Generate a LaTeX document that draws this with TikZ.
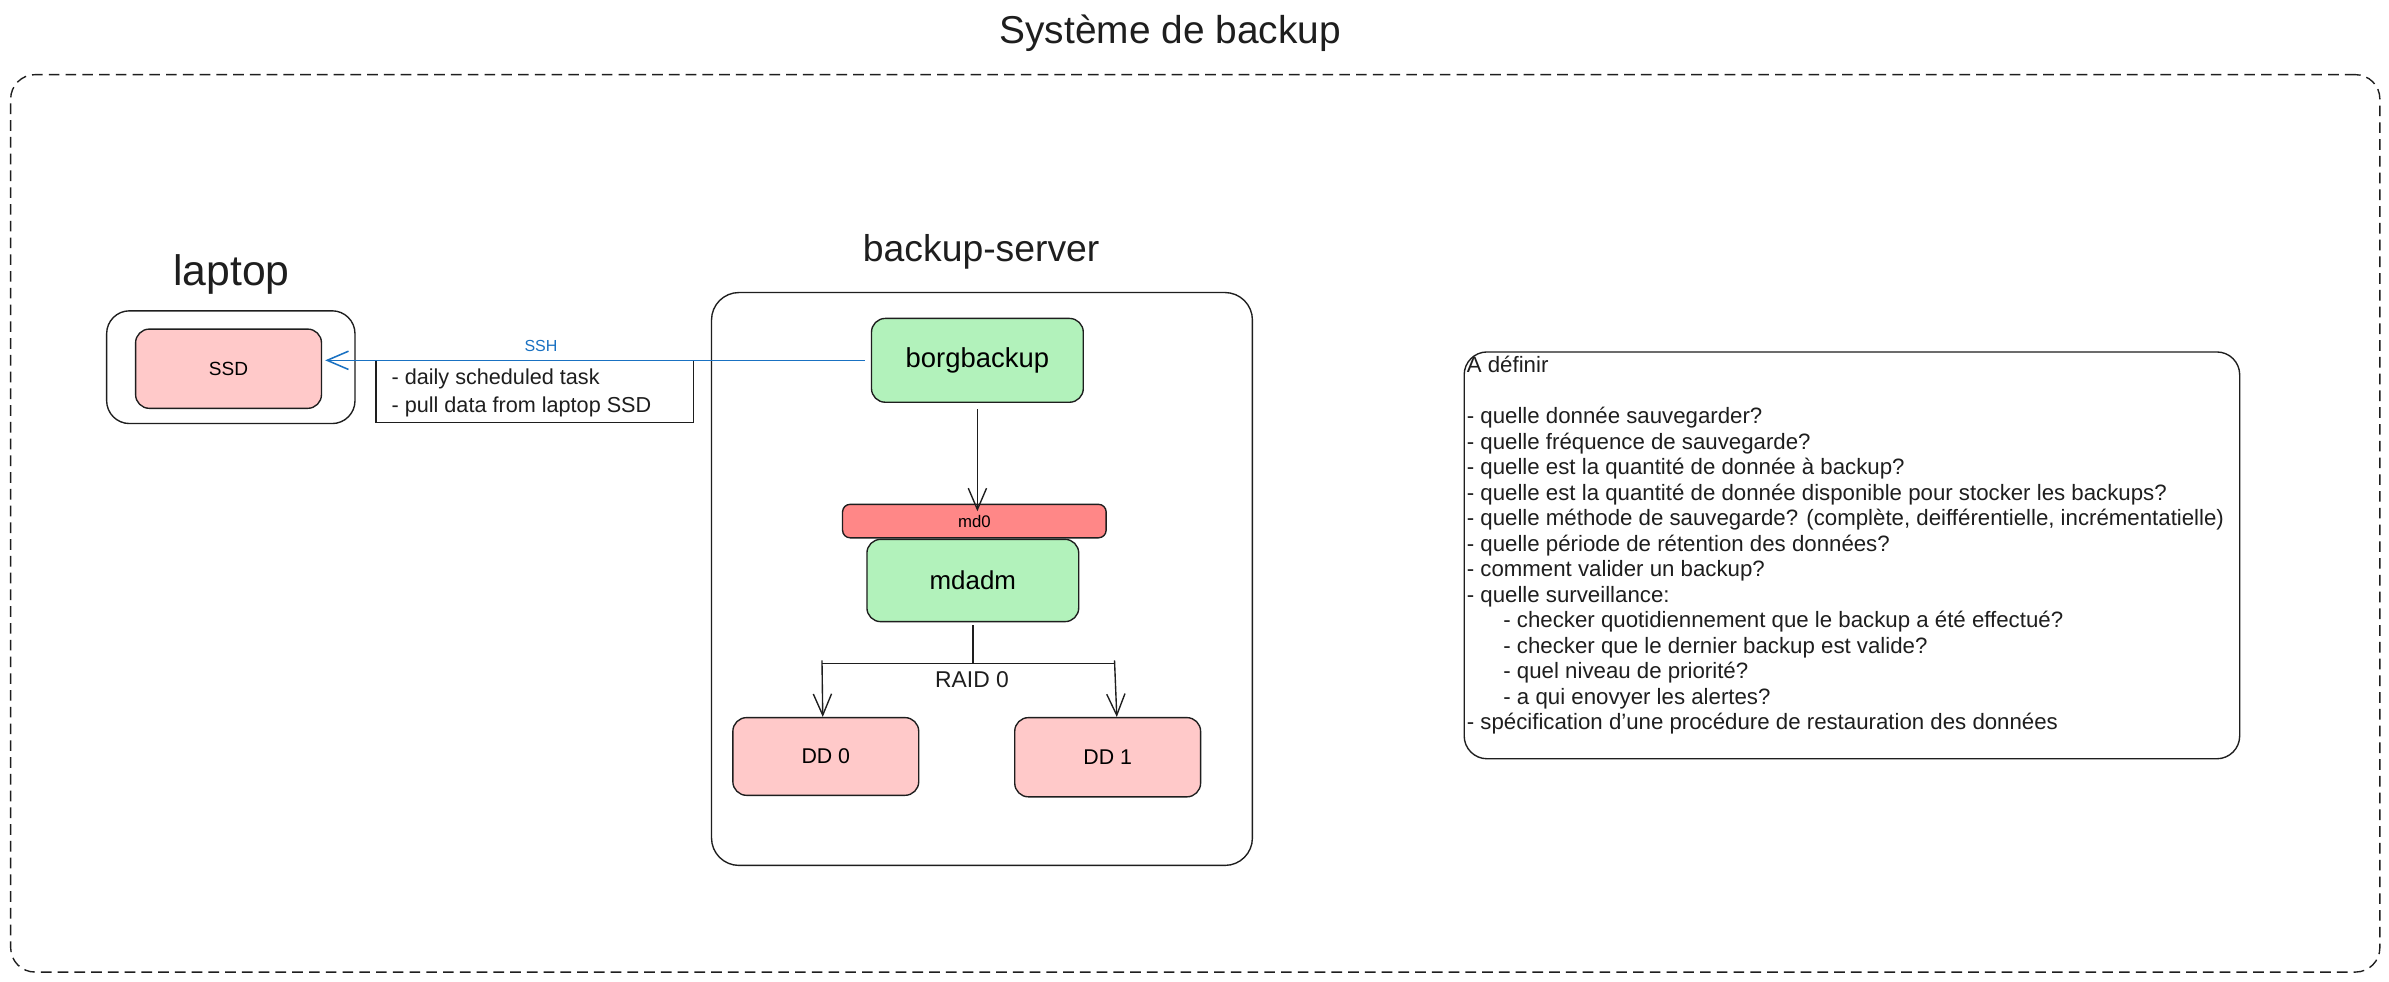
\documentclass[tikz,border=0pt]{standalone}
\usepackage{fontspec}
\setmainfont{Liberation Sans}
\usetikzlibrary{arrows.meta,calc}
\definecolor{ink}{HTML}{1E1E1E}
\definecolor{greenfill}{HTML}{B2F2BB}
\definecolor{pinkfill}{HTML}{FFC9C9}
\definecolor{redfill}{HTML}{FF8787}
\definecolor{sshblue}{HTML}{1971C2}
\newcommand{\fs}[1]{\fontsize{#1}{#1}\selectfont}
\begin{document}
\begin{tikzpicture}[x=1pt,y=-1pt,
  box/.style={draw=ink, line width=0.9pt, rounded corners=9pt, inner sep=0pt},
  container/.style={draw=ink, line width=0.9pt, rounded corners=15pt, inner sep=0pt},
  lbl/.style={text=ink, inner sep=0pt},
  arr/.style={draw=ink, line width=0.9pt, -{Straight Barb[length=14pt,width=12pt,line width=0.9pt]}},
  blueArr/.style={draw=sshblue, line width=1pt, -{Straight Barb[length=14pt,width=12pt,line width=1pt]}},
  plain/.style={draw=ink, line width=0.9pt}]
\useasboundingbox (0,0) rectangle (1568,644.5);
\fill[white] (0,0) rectangle (1568,644.5);

% title and outer frame
\node[lbl, font=\fs{25.5}] (title) at (768,22) {Système de backup};
\node[draw=ink, line width=0.9pt, dashed, dash pattern=on 7pt off 4pt, rounded corners=16pt,
      minimum width=1555pt, minimum height=589pt] (frame) at (784.5,343.5) {};

% laptop
\node[lbl, font=\fs{28}] (laptopLbl) at (152,180) {laptop};
\node[container, minimum width=163pt, minimum height=74pt] (laptop) at (151.5,241) {};
\node[box, fill=pinkfill, minimum width=122pt, minimum height=52pt, font=\fs{12.5}] (ssd) at (150,242) {SSD};

% backup-server
\node[lbl, font=\fs{24.5}] (serverLbl) at (644,165) {backup-server};
\node[container, rounded corners=18pt, minimum width=355pt, minimum height=376pt] (server) at (644.5,380) {};
\node[box, fill=greenfill, minimum width=139pt, minimum height=55pt, font=\fs{18}] (borg) at (641.5,236.5) {borgbackup};
\node[box, rounded corners=5pt, fill=redfill, minimum width=173pt, minimum height=22pt, font=\fs{11}] (md0) at (639.5,342) {md0};
\node[box, fill=greenfill, minimum width=139pt, minimum height=54pt, font=\fs{17}] (mdadm) at (638.5,381) {mdadm};
\node[box, fill=pinkfill, minimum width=122pt, minimum height=51pt, font=\fs{14}] (dd0) at (542,496.5) {DD 0};
\node[box, fill=pinkfill, minimum width=122pt, minimum height=52pt, font=\fs{14}] (dd1) at (727,497) {DD 1};

% SSH connector and note
\draw[blueArr] ([xshift=-4pt]borg.west) -- ([xshift=2pt]ssd.east |- borg.west)
  node[pos=0.6, above=5pt, text=sshblue, font=\fs{10.5}, inner sep=0pt] (sshLbl) {SSH};
\node[minimum width=208pt, minimum height=40pt, inner sep=0pt] (note) at (351,257) {};
\draw[plain] (note.north west) |- (note.south east) -- (note.north east);
\node[lbl, anchor=west, align=left, font=\fontsize{14.2}{18}\selectfont] (noteText) at ([xshift=10pt,yshift=-1pt]note.west)
  {- daily scheduled task\\- pull data from laptop SSD};

% storage connectors
\draw[arr] ([yshift=-4pt]borg.south) -- ([yshift=-5pt]borg.south |- md0.north);
\draw[plain] ([yshift=-2pt]mdadm.south) -- ++(0,25) coordinate (split);
\draw[plain] ($(split)+(-99,0)$) coordinate (splitL) -- ($(split)+(93,0)$) coordinate (splitR);
\draw[arr] ([yshift=2pt]splitL) -- ([xshift=-2pt]dd0.north);
\draw[arr] ([yshift=2pt]splitR) -- ([xshift=6pt]dd1.north);
\node[lbl, font=\fs{15}] (raid) at (638,446) {RAID 0};

% A definir
\node[container, minimum width=509pt, minimum height=267pt] (todo) at (1215.5,364.5) {};
\node[lbl, anchor=north west, align=left, font=\fontsize{14.6}{16.75}\selectfont] (todoText) at ([xshift=2pt,yshift=-3pt]todo.north west)
  {A définir\\
  \mbox{}\\
  - quelle donnée sauvegarder?\\
  - quelle fréquence de sauvegarde?\\
  - quelle est la quantité de donnée à backup?\\
  - quelle est la quantité de donnée disponible pour stocker les backups?\\
  - quelle méthode de sauvegarde? (complète, deifférentielle, incrémentatielle)\\
  - quelle période de rétention des données?\\
  - comment valider un backup?\\
  - quelle surveillance:\\
  \hspace*{24pt}- checker quotidiennement que le backup a été effectué?\\
  \hspace*{24pt}- checker que le dernier backup est valide?\\
  \hspace*{24pt}- quel niveau de priorité?\\
  \hspace*{24pt}- a qui enovyer les alertes?\\
  - spécification d'une procédure de restauration des données};
\end{tikzpicture}
\end{document}
